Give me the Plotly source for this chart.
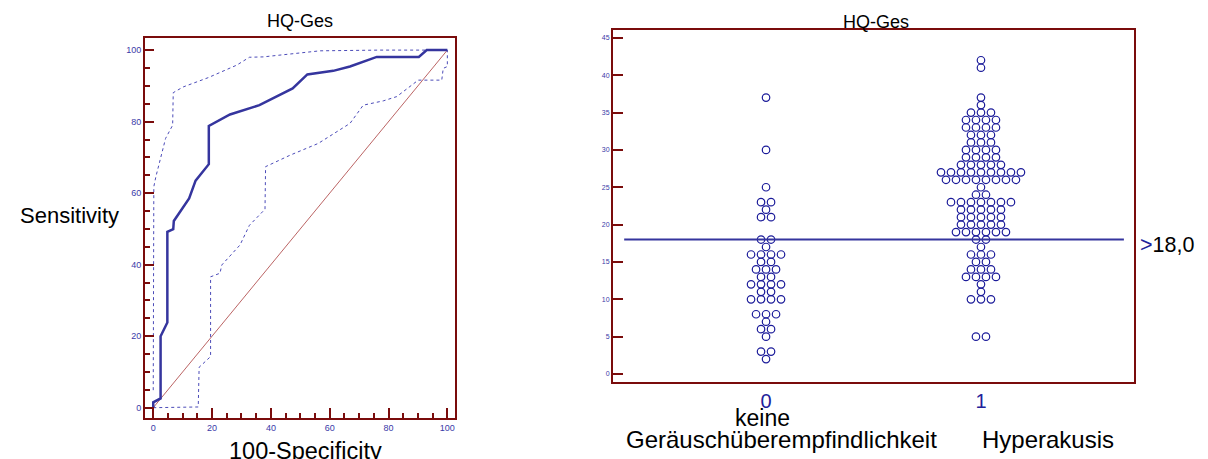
import plotly.graph_objects as go

# ---------------- ROC data (left) ----------------
roc_x = [0, 0, 2.5, 2.5, 4.8, 4.8, 6.8, 7.0, 12.2, 14.4, 18.9, 18.9, 26.1, 36.1, 47.4, 52.4, 61.2, 66.9, 76.0, 90.3, 93.0, 100]
roc_y = [0, 1.5, 2.6, 20.0, 23.8, 49.2, 49.9, 52.2, 58.5, 63.5, 68.1, 78.8, 82.0, 84.6, 89.3, 93.2, 94.2, 95.4, 98.1, 98.1, 100, 100]

ci_up_x = [0, 0, 0.2, 0.9, 4.2, 6.6, 6.8, 10.2, 18.7, 28.4, 32.7, 37.4, 56.7, 77.1, 100]
ci_up_y = [4.9, 60.0, 61.8, 64.6, 75.3, 79.0, 88.1, 89.7, 92.3, 95.8, 98.0, 98.1, 99.8, 100, 100]

ci_lo_x = [0, 15.3, 15.6, 19.5, 19.5, 22.7, 23.3, 29.5, 32.7, 38.0, 38.2, 46.5, 56.1, 66.9, 71.4, 78.2, 82.8, 90.1, 98.1, 98.6, 100, 100]
ci_lo_y = [0, 0.2, 11.3, 14.3, 36.6, 37.6, 39.9, 45.5, 51.0, 55.5, 67.4, 70.6, 73.9, 79.5, 84.6, 85.8, 87.0, 91.6, 91.6, 94.9, 95.4, 100]

diag_x = [0, 100]
diag_y = [0, 100]

# ---------------- Dot plot data (right) ----------------
g0_values = [37, 30, 25, 23, 22, 21, 18, 17, 16, 15, 14, 13, 12, 11, 10, 8, 7, 6, 5, 3, 2]
g0_counts = [1, 1, 1, 2, 1, 2, 2, 1, 4, 2, 3, 2, 4, 2, 4, 3, 1, 2, 1, 2, 1]

g1_values = [42, 41, 37, 36, 35, 34, 33, 32, 31, 30, 29, 28, 27, 26, 25, 24, 23, 22, 21, 20, 19, 18, 17, 16, 15, 14, 13, 12, 11, 10, 5]
g1_counts = [1, 1, 1, 1, 3, 4, 4, 3, 3, 4, 4, 5, 9, 8, 1, 2, 7, 5, 5, 5, 6, 2, 1, 3, 2, 3, 4, 1, 1, 3, 2]

cutoff = 18.0
cat_vals = [0, 1]
cat_labels = ["0", "1"]

OFF = 8  # page body margin
W, H = 1208 - OFF, 459 - OFF
DARKRED = "#7a0c0c"
BLUE = "#35359e"
TICKBLUE = "#3a3aa8"
FONT = "Liberation Sans, Arial, sans-serif"


def swarm(center, values, counts, spacing=0.0465):
    xs, ys = [], []
    for v, n in zip(values, counts):
        for i in range(n):
            xs.append(center + (i - (n - 1) / 2) * spacing)
            ys.append(v)
    return xs, ys


fig = go.Figure()

# left ROC
fig.add_trace(go.Scatter(x=diag_x, y=diag_y, mode="lines",
                         line=dict(color="#b35252", width=0.9), xaxis="x", yaxis="y"))
fig.add_trace(go.Scatter(x=ci_up_x, y=ci_up_y, mode="lines",
                         line=dict(color="#4b4bb8", width=1, dash="dot"), xaxis="x", yaxis="y"))
fig.add_trace(go.Scatter(x=ci_lo_x, y=ci_lo_y, mode="lines",
                         line=dict(color="#4b4bb8", width=1, dash="dot"), xaxis="x", yaxis="y"))
fig.add_trace(go.Scatter(x=roc_x, y=roc_y, mode="lines",
                         line=dict(color=BLUE, width=2.5), xaxis="x", yaxis="y"))

# right dot plot
for c, vals, cnts in [(cat_vals[0], g0_values, g0_counts), (cat_vals[1], g1_values, g1_counts)]:
    xs, ys = swarm(c, vals, cnts)
    fig.add_trace(go.Scatter(x=xs, y=ys, mode="markers",
                             marker=dict(symbol="circle-open", size=7.5, color="#1c1c9a",
                                         line=dict(width=1.2, color="#1c1c9a")),
                             xaxis="x2", yaxis="y2"))
fig.add_trace(go.Scatter(x=[-0.66, 1.665], y=[cutoff, cutoff], mode="lines",
                         line=dict(color=BLUE, width=2), xaxis="x2", yaxis="y2"))


def px(x):
    return (x - OFF) / W


def py(y):
    return 1 - (y - OFF) / H


axis_common = dict(showline=True, linecolor=DARKRED, linewidth=2, mirror=True,
                   showgrid=False, zeroline=False, ticks="inside", tickcolor=DARKRED)

fig.update_layout(
    width=W, height=H,
    margin=dict(l=0, r=0, t=0, b=0),
    paper_bgcolor="white", plot_bgcolor="white",
    showlegend=False,
    xaxis=dict(domain=[px(145), px(455)], range=[-2.8, 102.6], tickvals=[0, 20, 40, 60, 80, 100],
               ticklen=10, tickwidth=2, tickfont=dict(size=9, family=FONT, color=TICKBLUE),
               minor=dict(dtick=5, ticklen=5, tickwidth=1.5, tickcolor=DARKRED, ticks="inside"),
               **axis_common),
    yaxis=dict(domain=[py(417.7), py(38.3)], range=[-2.8, 103.3], tickvals=[0, 20, 40, 60, 80, 100],
               ticklen=9, tickwidth=2, tickfont=dict(size=9, family=FONT, color=TICKBLUE),
               minor=dict(dtick=5, ticklen=5, tickwidth=1.5, tickcolor=DARKRED, ticks="inside"),
               **axis_common),
    xaxis2=dict(domain=[px(613), px(1134)], range=[-0.712, 1.712], tickvals=cat_vals, ticktext=cat_labels,
                ticks="", tickfont=dict(size=20, family=FONT, color="#22229a"),
                showline=True, linecolor=DARKRED, linewidth=2, mirror=True,
                showgrid=False, zeroline=False, anchor="y2"),
    yaxis2=dict(domain=[py(381.7), py(30)], range=[-1.03, 46.05], tickvals=list(range(0, 46, 5)),
                ticklen=10, tickwidth=2, tickfont=dict(size=7, family=FONT, color=TICKBLUE),
                anchor="x2", **axis_common),
)

ann = [
    dict(text="HQ-Ges", x=300, y=21, size=18),
    dict(text="HQ-Ges", x=876, y=22, size=18),
    dict(text="Sensitivity", x=69, y=215, size=22),
    dict(text="100-Specificity", x=305, y=451, size=23.5),
    dict(text="keine", x=762, y=418, size=23),
    dict(text="Geräuschüberempfindlichkeit", x=781, y=439, size=24),
    dict(text="Hyperakusis", x=1048, y=439, size=24),
    dict(text="<span style='color:#22229a'>&gt;</span>18,0", x=1167, y=245, size=21.5),
]
fig.update_layout(annotations=[
    dict(text=a["text"], x=px(a["x"]), y=py(a["y"]), xref="paper", yref="paper",
         xanchor="center", yanchor="middle", showarrow=False,
         font=dict(size=a["size"], family=FONT, color="black")) for a in ann
])

fig.write_html("out.html")
